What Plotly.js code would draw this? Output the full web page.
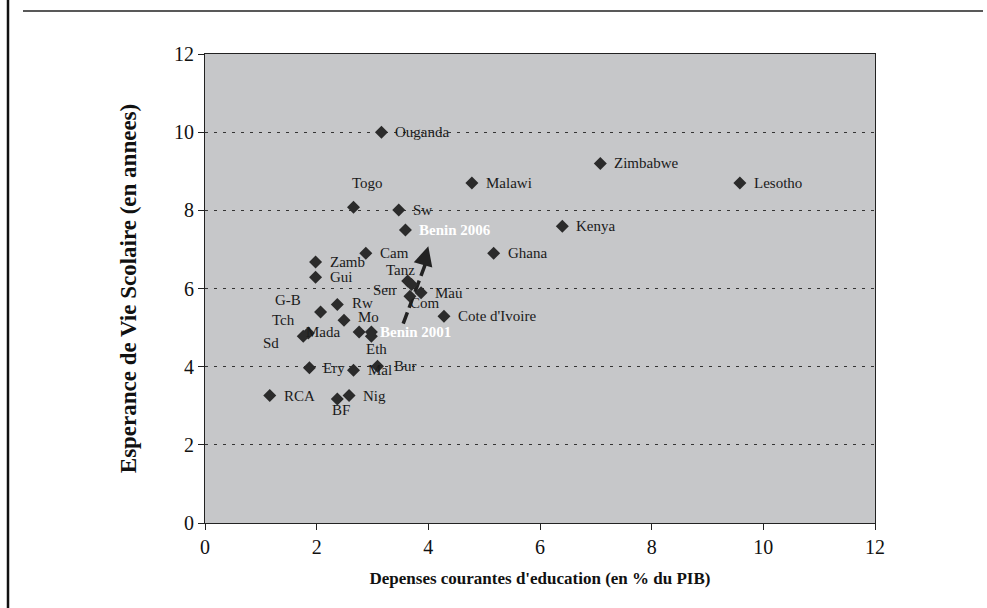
<!DOCTYPE html>
<html>
<head>
<meta charset="utf-8">
<script src="https://cdn.plot.ly/plotly-3.0.1.min.js"></script>
<style>html,body{margin:0;padding:0;background:#fff;}#chart{width:987px;height:608px;}</style>
</head>
<body>
<div id="chart"></div>
<script>
// Data
const countries = ["Ouganda","Togo","Sw","Benin 2006","Cam","Zamb","Gui","Malawi","Ghana","Zimbabwe","Lesotho","Kenya",
  "Tanz","Sen","Mau","Com","Cote d'Ivoire","G-B","Rw","Mo","Tch","Sd","Mada","Benin 2001","Eth","Ery","Mal","Bur","RCA","Nig","BF"];
const spending = [3.16,2.66,3.47,3.59,2.88,1.98,1.98,4.78,5.17,7.08,9.58,6.40,
  3.63,3.70,3.87,3.67,4.28,2.07,2.37,2.49,1.85,1.76,2.76,2.98,2.98,1.87,2.66,3.09,1.16,2.58,2.37];
const schoolLife = [10.0,8.08,8.01,7.50,6.90,6.68,6.29,8.70,6.90,9.20,8.70,7.59,
  6.19,6.10,5.89,5.80,5.29,5.40,5.59,5.19,4.86,4.78,4.89,4.89,4.78,3.97,3.91,4.01,3.26,3.26,3.17];
const xTicks = [0,2,4,6,8,10,12];
const yTicks = [0,2,4,6,8,10,12];
const arrowX = [3.55, 4.0];
const arrowY = [5.1, 7.08];

// Label placement (style only): [xanchor, xshift, yshift]
const labelStyle = {
  "Togo":["center",14,24], "Tanz":["center",-7,11], "Sen":["right",-14,-5], "Com":["left",-2,-7],
  "G-B":["right",-18,12], "Tch":["right",-11,13], "Sd":["right",-22,-7], "Mada":["right",-17,0],
  "Benin 2001":["left",7,0], "Eth":["center",5,-13], "BF":["center",4,-11], "Rw":["left",13,2], "Mo":["left",12,3],
  "Bur":["left",14,0]
};
const white = {"Benin 2006":true,"Benin 2001":true};

const annotations = countries.map((c,i)=>{
  const s = labelStyle[c] || ["left",12,0];
  return {x: spending[i], y: schoolLife[i], xref:'x', yref:'y', text: white[c] ? '<b>'+c+'</b>' : c,
    showarrow:false, xanchor:s[0], yanchor:'middle', xshift:s[1], yshift:s[2],
    font:{family:'Liberation Serif, Times New Roman, serif', size:15, color: white[c] ? '#ffffff' : '#1a1a1a'}};
});
// arrow head
annotations.push({x: arrowX[1], y: arrowY[1], ax: arrowX[1]-0.06, ay: arrowY[1]-0.3, axref:'x', ayref:'y', xref:'x', yref:'y',
  showarrow:true, arrowhead:2, arrowsize:1.1, arrowwidth:3.5, arrowcolor:'#222', text:''});

const traces = [
  {x: arrowX, y: [arrowY[0], arrowY[1]-0.25], mode:'lines', line:{color:'#222', width:3.5, dash:'12px,5px'}, hoverinfo:'skip', showlegend:false},
  {x: spending, y: schoolLife, mode:'markers', type:'scatter', marker:{symbol:'diamond', size:10, color:'#2b2b2b'}, text:countries, showlegend:false}
];

const layout = {
  width:987, height:608,
  margin:{l:205, r:112, t:54, b:85},
  paper_bgcolor:'#ffffff', plot_bgcolor:'#c6c7c9',
  font:{family:'Liberation Serif, Times New Roman, serif', color:'#111'},
  xaxis:{range:[0,12], tickvals:xTicks, ticks:'outside', ticklen:6, tickcolor:'#222', showgrid:false, zeroline:false,
    showline:true, linecolor:'#222', linewidth:1, mirror:true, tickfont:{size:20, family:'Liberation Serif, serif'},
    title:{text:"<b>Depenses courantes d'education (en % du PIB)</b>", font:{size:17, family:'Liberation Serif, serif'}, standoff:15}},
  yaxis:{range:[0,12], tickvals:yTicks, ticks:'outside', ticklen:6, tickcolor:'#222', showgrid:true, gridcolor:'#333', gridwidth:1,
    griddash:'3px,6px', zeroline:false, showline:true, linecolor:'#222', linewidth:1, mirror:true,
    tickfont:{size:20, family:'Liberation Serif, serif'},
    title:{text:'<b>Esperance de Vie Scolaire (en annees)</b>', font:{size:23, family:'Liberation Serif, serif'}, standoff:30}},
  annotations: annotations,
  shapes:[
    {type:'line', xref:'paper', yref:'paper', x0:(8-205)/670, x1:(8-205)/670, y0:(523-0)/469, y1:(523-608)/469, line:{color:'#111', width:2.5}},
    {type:'line', xref:'paper', yref:'paper', x0:(23-205)/670, x1:(983-205)/670, y0:(523-11)/469, y1:(523-11)/469, line:{color:'#222', width:1.5}}
  ]
};
Plotly.newPlot('chart', traces, layout, {staticPlot:true});
</script>
</body>
</html>
